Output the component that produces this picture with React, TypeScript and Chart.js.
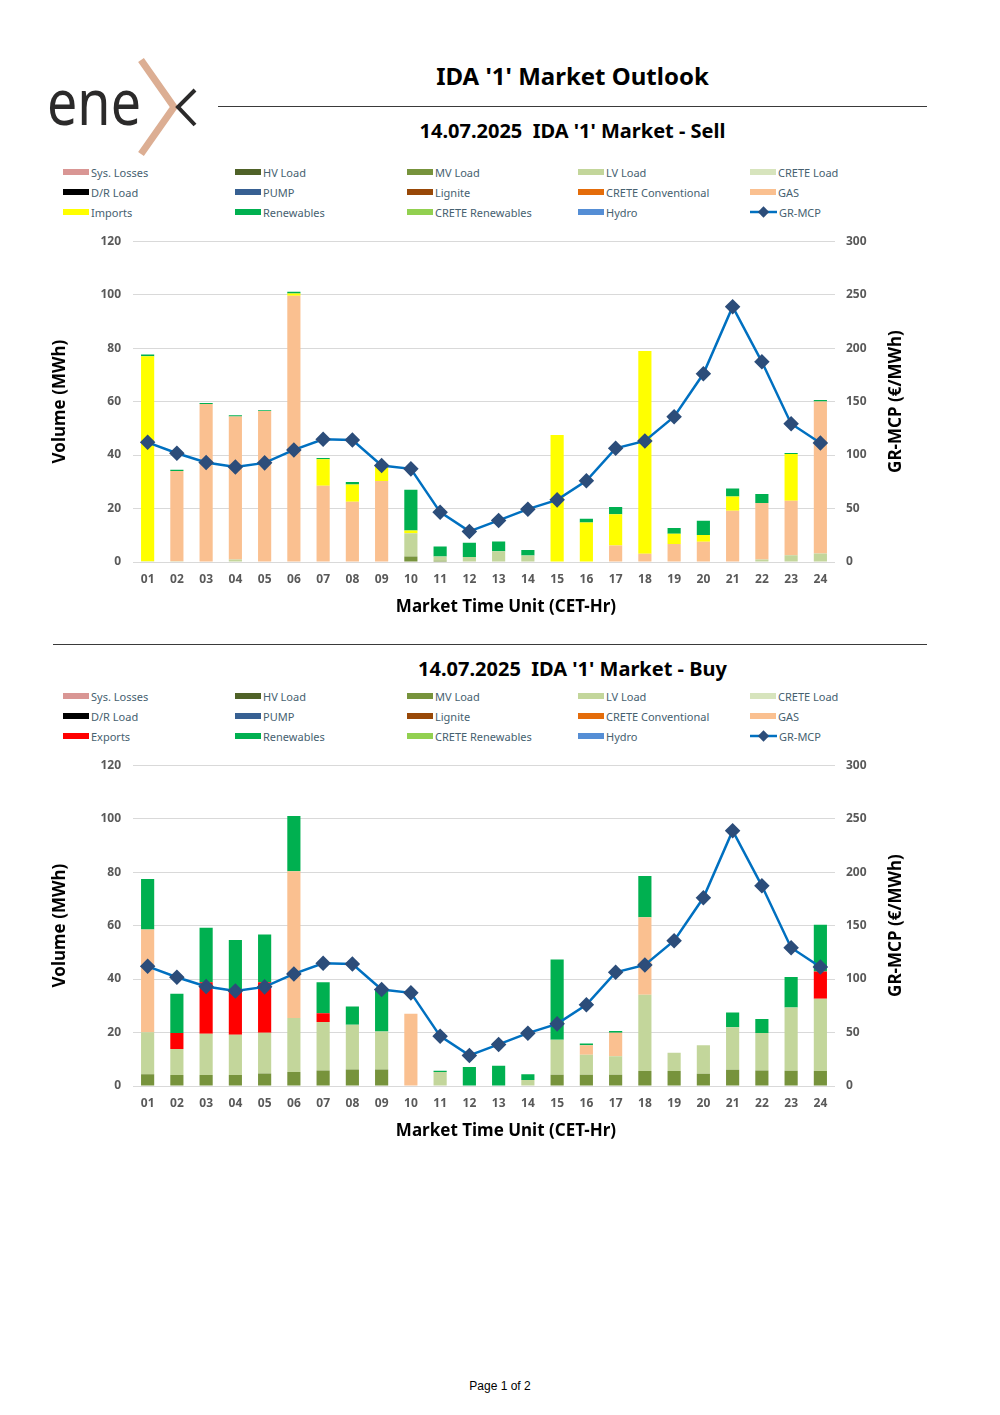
import React, { useEffect, useRef } from "react";
import { Chart, registerables } from "chart.js";

Chart.register(...registerables);

// ---------- DATA ----------
const hours = ["01", "02", "03", "04", "05", "06", "07", "08", "09", "10", "11", "12", "13", "14", "15", "16", "17", "18", "19", "20", "21", "22", "23", "24"];
const volumeTicks = [0, 20, 40, 60, 80, 100, 120];
const priceTicks = [0, 50, 100, 150, 200, 250, 300];

const grMcp = [111.9, 101.7, 93.0, 88.9, 92.7, 104.8, 114.7, 114.1, 90.2, 87.1, 46.6, 28.6, 38.9, 49.4, 58.1, 75.9, 106.3, 113.2, 135.9, 176.0, 238.8, 187.2, 129.3, 111.3];

// Sell side
const sellMvLoad = [0, 0, 0, 0, 0, 0, 0, 0, 0, 2.1, 0.5, 0, 0, 0, 0, 0, 0, 0, 0, 0, 0, 0, 0, 0];
const sellLvLoad = [0.3, 0.3, 0, 0.9, 0, 0, 0, 0, 0, 8.7, 1.6, 1.9, 4.0, 2.4, 0, 0, 0, 0, 0, 0, 0, 0.9, 2.5, 3.2];
const sellGas = [0, 33.7, 59.1, 53.5, 56.5, 99.6, 28.5, 22.5, 30.3, 0, 0, 0, 0, 0, 0, 0, 6.2, 3.1, 6.7, 7.6, 19.2, 21.2, 20.4, 56.8];
const sellImports = [76.7, 0, 0, 0, 0, 0.8, 9.9, 6.5, 5.8, 1.0, 0, 0, 0, 0, 47.5, 14.8, 11.7, 75.8, 3.9, 2.5, 5.3, 0, 17.5, 0];
const sellRenewables = [0.6, 0.5, 0.4, 0.5, 0.3, 0.7, 0.5, 0.9, 0, 15.2, 3.7, 5.3, 3.7, 2.1, 0, 1.4, 2.7, 0, 2.1, 5.3, 3.0, 3.3, 0.4, 0.6];

// Buy side
const buyMvLoad = [4.4, 4.1, 4.1, 4.1, 4.7, 5.2, 5.8, 6.2, 6.2, 0, 0, 0, 0, 0, 4.2, 4.2, 4.2, 5.6, 5.6, 4.6, 6.1, 5.8, 5.7, 5.6];
const buyLvLoad = [15.7, 9.7, 15.4, 15.1, 15.2, 20.2, 18.1, 16.7, 14.2, 0, 5.2, 0, 0, 2.2, 13.1, 7.5, 6.9, 28.5, 6.8, 10.6, 15.9, 14.0, 23.7, 27.0];
const buyGas = [38.4, 0, 0, 0, 0, 54.9, 0, 0, 0, 27.0, 0, 0, 0, 0, 0, 3.5, 8.8, 29.0, 0, 0, 0, 0, 0, 0];
const buyExports = [0, 6.0, 19.3, 16.1, 18.9, 0, 3.3, 0, 0, 0, 0, 0, 0, 0, 0, 0, 0, 0, 0, 0, 0, 0, 0, 10.2];
const buyRenewables = [18.9, 14.7, 20.4, 19.3, 17.9, 20.7, 11.6, 6.8, 15.3, 0, 0.5, 7.1, 7.6, 2.2, 30.0, 0.7, 0.7, 15.5, 0, 0, 5.5, 5.3, 11.4, 17.5];

const sellLegendNames = ["Sys. Losses", "HV Load", "MV Load", "LV Load", "CRETE Load", "D/R Load", "PUMP", "Lignite", "CRETE Conventional", "GAS", "Imports", "Renewables", "CRETE Renewables", "Hydro", "GR-MCP"];
const buyLegendNames = ["Sys. Losses", "HV Load", "MV Load", "LV Load", "CRETE Load", "D/R Load", "PUMP", "Lignite", "CRETE Conventional", "GAS", "Exports", "Renewables", "CRETE Renewables", "Hydro", "GR-MCP"];

// ---------- STYLES ----------
const COLORS: Record<string, string> = {
  "Sys. Losses": "#d99694",
  "HV Load": "#4f6228",
  "MV Load": "#77933c",
  "LV Load": "#c3d69b",
  "CRETE Load": "#d7e4bd",
  "D/R Load": "#000000",
  PUMP: "#376092",
  Lignite: "#984807",
  "CRETE Conventional": "#e46c0a",
  GAS: "#fac090",
  Imports: "#ffff00",
  Exports: "#ff0000",
  Renewables: "#00b050",
  "CRETE Renewables": "#92d050",
  Hydro: "#558ed5",
  "GR-MCP": "#0070c0",
};
const MARKER = "#2c4d7a";
const FONT = '"Noto Sans", "DejaVu Sans", sans-serif';

const titlesPlugin = {
  id: "axisTitles",
  afterDraw(chart: any) {
    const { ctx, chartArea } = chart;
    const cy = (chartArea.top + chartArea.bottom) / 2;
    ctx.save();
    ctx.fillStyle = "#000000";
    ctx.font = `bold 17px ${FONT}`;
    ctx.textAlign = "center";
    ctx.textBaseline = "middle";
    // left
    ctx.save();
    ctx.translate(chartArea.left - 73, cy);
    ctx.rotate(-Math.PI / 2);
    ctx.fillText("Volume (MWh)", 0, 0);
    ctx.restore();
    // right
    ctx.save();
    ctx.translate(chartArea.right + 61, cy);
    ctx.rotate(-Math.PI / 2);
    ctx.fillText("GR-MCP (€/MWh)", 0, 0);
    ctx.restore();
    // bottom
    ctx.fillText("Market Time Unit (CET-Hr)", (chartArea.left + chartArea.right) / 2 + 22, chartArea.bottom + 45);
    ctx.restore();
  },
};

type Series = { name: string; data: number[] };

function MarketChart({ series }: { series: Series[] }) {
  const ref = useRef<HTMLCanvasElement | null>(null);
  useEffect(() => {
    if (!ref.current) return;
    const barSets = series.map((s) => ({
      type: "bar" as const,
      label: s.name,
      data: s.data,
      backgroundColor: COLORS[s.name],
      borderWidth: 0,
      stack: "vol",
      yAxisID: "y",
      order: 1,
      barPercentage: 0.45,
      categoryPercentage: 1,
    }));
    const chart = new Chart(ref.current, {
      type: "bar",
      data: {
        labels: hours,
        datasets: [
          ...barSets,
          {
            type: "line" as const,
            label: "GR-MCP",
            data: grMcp,
            yAxisID: "y1",
            order: 0,
            borderColor: COLORS["GR-MCP"],
            borderWidth: 2.5,
            pointStyle: "rectRot",
            pointRadius: 6,
            pointBackgroundColor: MARKER,
            pointBorderColor: MARKER,
            tension: 0,
          },
        ] as any,
      },
      options: {
        responsive: false,
        animation: false,
        layout: { padding: { top: 6, left: 0, right: 0, bottom: 0 } },
        plugins: { legend: { display: false }, tooltip: { enabled: false }, title: { display: false } },
        scales: {
          x: {
            stacked: true,
            grid: { display: false, drawTicks: false },
            border: { display: false },
            ticks: { color: "#595959", font: { family: FONT, size: 12, weight: "bold" }, padding: 10, maxRotation: 0, autoSkip: false },
            afterFit: (s: any) => {
              s.height = 60;
            },
          },
          y: {
            stacked: true,
            position: "left",
            min: volumeTicks[0],
            max: volumeTicks[volumeTicks.length - 1],
            afterBuildTicks: (s: any) => {
              s.ticks = volumeTicks.map((v) => ({ value: v }));
            },
            grid: { color: "#d9d9d9", lineWidth: 1, drawTicks: false },
            border: { display: false },
            ticks: { color: "#595959", font: { family: FONT, size: 12, weight: "bold" }, padding: 12 },
            afterFit: (s: any) => {
              s.width = 93;
            },
          },
          y1: {
            position: "right",
            min: priceTicks[0],
            max: priceTicks[priceTicks.length - 1],
            afterBuildTicks: (s: any) => {
              s.ticks = priceTicks.map((v) => ({ value: v }));
            },
            grid: { display: false, drawTicks: false },
            border: { display: false },
            ticks: { color: "#595959", font: { family: FONT, size: 12, weight: "bold" }, padding: 11 },
            afterFit: (s: any) => {
              s.width = 85;
            },
          },
        },
      },
      plugins: [titlesPlugin],
    });
    return () => chart.destroy();
  }, [series]);
  return <canvas ref={ref} width={880} height={400} style={{ width: 880, height: 400, display: "block" }} />;
}

function Legend({ names, top }: { names: string[]; top: number }) {
  const colX = [63, 235, 407, 578, 750];
  return (
    <>
      {names.map((n, i) => {
        const col = i % 5;
        const row = Math.floor(i / 5);
        const isLine = n === "GR-MCP";
        return (
          <div
            key={n + i}
            style={{ position: "absolute", left: colX[col], top: top + row * 20 - 8, height: 16, display: "flex", alignItems: "center", fontFamily: FONT, fontSize: 11, color: "#466170" }}
          >
            {isLine ? (
              <svg width={27} height={12} style={{ marginRight: 2 }}>
                <line x1={0} y1={6} x2={27} y2={6} stroke={COLORS[n]} strokeWidth={2.5} />
                <rect x={9.5} y={2} width={8} height={8} fill={MARKER} transform="rotate(45 13.5 6)" />
              </svg>
            ) : (
              <div style={{ width: 26, height: 6, background: COLORS[n], marginRight: 2 }} />
            )}
            <span>{n}</span>
          </div>
        );
      })}
    </>
  );
}

function Logo() {
  return (
    <svg width={170} height={110} style={{ position: "absolute", left: 40, top: 52 }}>
      <text x={7} y={73} fontFamily={FONT} fontSize={64} fill="#2b2a2a" textLength={94} lengthAdjust="spacingAndGlyphs">
        ene
      </text>
      <polyline points="101,8 134,55 101,102" fill="none" stroke="#dcae93" strokeWidth={7} />
      <polyline points="155,38 138,55 155,73" fill="none" stroke="#2b2a2a" strokeWidth={4} />
    </svg>
  );
}

const sellSeries: Series[] = [
  { name: "MV Load", data: sellMvLoad },
  { name: "LV Load", data: sellLvLoad },
  { name: "GAS", data: sellGas },
  { name: "Imports", data: sellImports },
  { name: "Renewables", data: sellRenewables },
];
const buySeries: Series[] = [
  { name: "MV Load", data: buyMvLoad },
  { name: "LV Load", data: buyLvLoad },
  { name: "GAS", data: buyGas },
  { name: "Exports", data: buyExports },
  { name: "Renewables", data: buyRenewables },
];

export default function App() {
  const heading: React.CSSProperties = { position: "absolute", left: 218, width: 709, textAlign: "center", fontFamily: FONT, fontWeight: 700, color: "#000" };
  return (
    <div style={{ position: "absolute", left: 0, top: 0, width: 1000, height: 1415, overflow: "hidden", background: "#fff" }}>
      <Logo />
      <div style={{ ...heading, top: 59, fontSize: 24 }}>IDA '1' Market Outlook</div>
      <div style={{ position: "absolute", left: 218, top: 106, width: 709, height: 1, background: "#3a3a3a" }} />
      <div style={{ ...heading, top: 117, fontSize: 20 }}>14.07.2025&nbsp;&nbsp;IDA '1' Market - Sell</div>
      <Legend names={sellLegendNames} top={172} />
      <div style={{ position: "absolute", left: 40, top: 222 }}>
        <MarketChart series={sellSeries} />
      </div>
      <div style={{ position: "absolute", left: 53, top: 644, width: 874, height: 1, background: "#3a3a3a" }} />
      <div style={{ ...heading, top: 655, fontSize: 20 }}>14.07.2025&nbsp;&nbsp;IDA '1' Market - Buy</div>
      <Legend names={buyLegendNames} top={696} />
      <div style={{ position: "absolute", left: 40, top: 746 }}>
        <MarketChart series={buySeries} />
      </div>
      <div style={{ position: "absolute", left: 0, width: 1000, top: 1379, textAlign: "center", fontFamily: '"Liberation Sans", Arial, sans-serif', fontSize: 12, color: "#000" }}>
        Page 1 of 2
      </div>
    </div>
  );
}
